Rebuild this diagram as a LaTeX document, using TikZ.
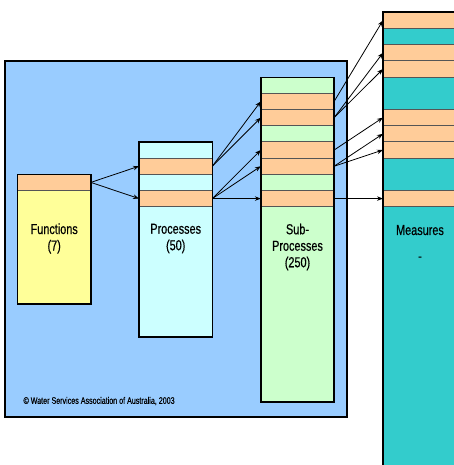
\documentclass[tikz,border=0pt]{standalone}
\usepackage{fontspec}
\newfontfamily\labelfont[FakeStretch=0.75,FakeBold=0.4]{Liberation Sans}
\usetikzlibrary{positioning,arrows.meta}
\definecolor{panelblue}{HTML}{99CCFF}
\definecolor{funcyellow}{HTML}{FFFF99}
\definecolor{proccyan}{HTML}{CCFFFF}
\definecolor{subgreen}{HTML}{CCFFCC}
\definecolor{meastea}{HTML}{33CCCC}
\definecolor{bandorange}{HTML}{FFCC99}
\definecolor{bandline}{HTML}{555555}
\tikzset{
  column/.style={inner sep=0pt,outer sep=0pt,anchor=north,minimum width=73.3pt},
  colborder/.style={draw=black,line width=1.6pt},
  band/.style={draw=bandline,line width=0.8pt,inner sep=0pt,outer sep=0pt,
    minimum width=73.3pt,minimum height=16.2pt,fill=bandorange},
  link/.style={line width=0.8pt,draw=black,-{Stealth[length=6pt,width=4.5pt]}},
  caption/.style={font=\labelfont\fontsize{14.5}{16.5}\selectfont,align=center},
  credit/.style={font=\labelfont\fontsize{9.5}{11}\selectfont,anchor=west}
}
\begin{document}
\begin{tikzpicture}[x=1pt,y=-1pt]
  \useasboundingbox (0,0) rectangle (453,465);
  % panel
  \draw[fill=panelblue,line width=2pt] (5,61) rectangle (346.5,416.7);
  % columns
  \node[column,fill=funcyellow,minimum height=129.7pt] (func) at (54.2,174.3) {};
  \node[column,fill=proccyan,minimum height=194.4pt] (proc) at (175.7,142.3) {};
  \node[column,fill=subgreen,minimum height=324pt] (sub) at (297.5,77.7) {};
  \node[column,fill=meastea,minimum width=100pt,minimum height=470pt] (meas) at (433,12.3) {};
  % bands
  \node[band] (f10) at (54.2,182.4) {};
  \foreach \r in {9,11}
    \node[band] (p\r) at (175.7,{20.4+16.2*\r}) {};
  \foreach \r in {5,6,8,9,11}
    \node[band] (s\r) at (297.5,{20.4+16.2*\r}) {};
  \foreach \r in {0,2,3,6,7,8,11}
    \node[band,minimum width=100pt] (m\r) at (433,{20.4+16.2*\r}) {};
  \foreach \c in {func,proc,sub,meas}
    \draw[colborder] (\c.north west) rectangle (\c.south east);
  % labels
  \node[caption] (funcname) at (54.2,238.5) {Functions\\(7)};
  \node[caption] (procname) at (175.7,238.5) {Processes\\(50)};
  \node[caption] (subname) at (297.5,247) {Sub-\\Processes\\(250)};
  \node[caption] (measname) at (420,243) {Measures\\[9.5pt]-};
  \node[credit] (wsaa) at (20,401) {\textcopyright{} Water Services Association of Australia, 2003};
  % links
  \draw[link] (f10.east) -- (p9.west);
  \draw[link] (f10.east) -- (p11.west);
  \draw[link] (p9.east) -- (s5.west);
  \draw[link] (p9.east) -- (s6.west);
  \draw[link] (p11.east) -- (s8.west);
  \draw[link] (p11.east) -- (s9.west);
  \draw[link] (p11.east) -- (s11.west);
  \draw[link] (s5.east) -- (m0.west);
  \draw[link] (s6.east) -- (m2.west);
  \draw[link] (s6.east) -- (m3.west);
  \draw[link] (s8.east) -- (m6.west);
  \draw[link] (s9.east) -- (m7.west);
  \draw[link] (s9.east) -- (m8.west);
  \draw[link] (s11.east) -- (m11.west);
\end{tikzpicture}
\end{document}
